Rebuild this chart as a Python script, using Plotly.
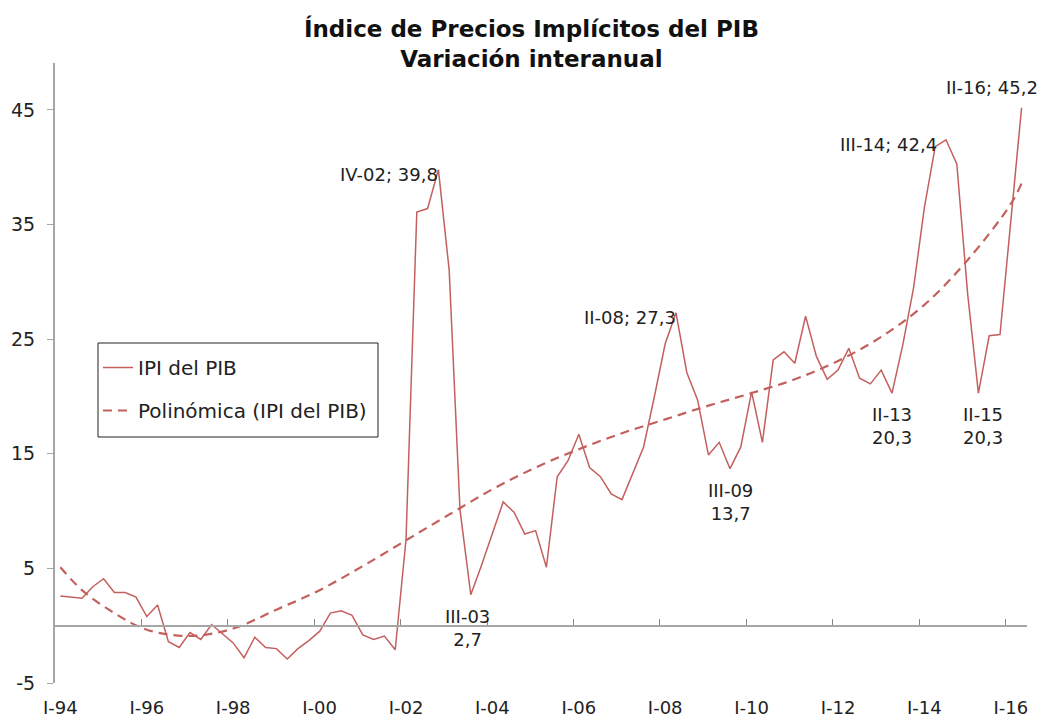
"""
IPI del PIB - variación interanual, trimestral (I-94 a II-16).
"""

import plotly.graph_objects as go

# Serie trimestral, desde I-94 hasta II-16 (90 trimestres)
ipi = [
    2.6, 2.5, 2.4, 3.4, 4.1, 2.9, 2.9, 2.5,        # 94-95
    0.8, 1.8, -1.4, -1.9, -0.6, -1.2, 0.1, -0.7,   # 96-97
    -1.5, -2.8, -1.0, -1.9, -2.0, -2.9, -2.0, -1.3,  # 98-99
    -0.5, 1.1, 1.3, 0.9, -0.8, -1.2, -0.9, -2.1,   # 00-01
    7.5, 36.1, 36.4, 39.8, 31.0, 10.1, 2.7, 5.3,   # 02-03
    8.0, 10.8, 9.9, 8.0, 8.3, 5.1, 13.0, 14.4,     # 04-05
    16.7, 13.8, 13.0, 11.5, 11.0, 13.3, 15.6, 20.0,  # 06-07
    24.6, 27.3, 22.1, 19.7, 14.9, 16.0, 13.7, 15.6,  # 08-09
    20.4, 16.0, 23.2, 23.9, 22.9, 27.0, 23.5, 21.5,  # 10-11
    22.3, 24.2, 21.6, 21.1, 22.3, 20.3, 24.5, 29.5,  # 12-13
    36.5, 41.8, 42.4, 40.3, 29.0, 20.3, 25.3, 25.4,  # 14-15
    35.1, 45.2,                                     # 16
]
quarter_idx = list(range(len(ipi)))

trend_idx = [0, 2, 5, 8, 12, 16, 20, 24, 28, 32, 36, 40, 44,
             48, 52, 56, 60, 64, 68, 72, 76, 80, 84, 88, 89]
trend_val = [5.1, 3.1, 1.1, -0.35, -0.9, -0.25, 1.4, 3.1, 5.2, 7.45, 9.7, 11.9, 13.8,
             15.4, 16.8, 18.0, 19.2, 20.3, 21.5, 23.1, 25.2, 28.0, 31.9, 36.8, 38.6]

# Etiquetas del eje x (una cada 8 trimestres)
tick_idx = [0, 8, 16, 24, 32, 40, 48, 56, 64, 72, 80, 88]
tick_text = ['I-94', 'I-96', 'I-98', 'I-00', 'I-02', 'I-04',
             'I-06', 'I-08', 'I-10', 'I-12', 'I-14', 'I-16']
y_ticks = [-5, 5, 15, 25, 35, 45]
y_tick_text = ['-5', '5', '15', '25', '35', '45']

# Puntos anotados
label_idx = [35, 38, 57, 62, 82, 89, 77, 85]
label_text = ['IV-02; 39,8', 'III-03<br>2,7', 'II-08; 27,3', 'III-09<br>13,7',
              'III-14; 42,4', 'II-16; 45,2', 'II-13<br>20,3', 'II-15<br>20,3']
label_pos = ['left', 'below', 'left', 'below', 'left', 'above', 'below', 'below']

LINE_COLOR = '#C3605D'
AXIS_COLOR = '#A6A6A6'
TEXT_COLOR = '#222222'
FONT = 'DejaVu Sans'

W, H = 1042, 720
M_L, M_R, M_T, M_B = 55, 15, 63, 37
Y_MIN, Y_MAX = -5, 49.1
X_MIN, X_MAX = -0.5, len(ipi) - 0.5

fig = go.Figure()

fig.add_trace(
    go.Scatter(
        x=quarter_idx,
        y=ipi,
        mode='lines',
        name='IPI del PIB',
        legendgroup='a',
        line=dict(color=LINE_COLOR, width=1.5),
    )
)

fig.add_trace(
    go.Scatter(
        x=trend_idx,
        y=trend_val,
        mode='lines',
        name='Polinómica (IPI del PIB)',
        legendgroup='b',
        xaxis='x2',
        line=dict(color=LINE_COLOR, width=2.2, dash='9px,6px', shape='spline', smoothing=1.0),
    )
)

# Etiquetas de datos
placement = {
    'left': dict(xanchor='right', yanchor='middle', xshift=2, yshift=-5),
    'below': dict(xanchor='center', yanchor='top', xshift=0, yshift=-9),
    'above': dict(xanchor='right', yanchor='middle', xshift=18, yshift=20),
}
# pequeños ajustes sobre la colocación general
nudge = {82: -9, 85: 5, 38: -3}
for idx, txt, pos in zip(label_idx, label_text, label_pos):
    opts = dict(placement[pos])
    opts['xshift'] += nudge.get(idx, 0)
    fig.add_annotation(
        x=idx,
        y=ipi[idx],
        text=txt,
        showarrow=False,
        font=dict(family=FONT, size=18, color=TEXT_COLOR),
        **opts,
    )

# Recuadro de la leyenda (en píxeles de la figura -> papel)
plot_w = W - M_L - M_R
plot_h = H - M_T - M_B
box = (98, 343, 378, 437)  # x0, y0, x1, y1 (px desde arriba-izquierda)
fig.add_shape(
    type='rect',
    xref='paper', yref='paper',
    x0=(box[0] - M_L) / plot_w, x1=(box[2] - M_L) / plot_w,
    y0=(H - M_B - box[3]) / plot_h, y1=(H - M_B - box[1]) / plot_h,
    line=dict(color='#222222', width=1),
    fillcolor='rgba(0,0,0,0)',
)

fig.update_layout(
    width=W,
    height=H,
    margin=dict(l=M_L, r=M_R, t=M_T, b=M_B),
    paper_bgcolor='white',
    plot_bgcolor='white',
    font=dict(family=FONT, size=18, color=TEXT_COLOR),
    title=dict(
        text='<b>Índice de Precios Implícitos del PIB<br>Variación interanual</b>',
        x=0.51,
        xref='container',
        xanchor='center',
        y=1 - 37 / 720,
        yanchor='top',
        font=dict(family=FONT, size=23, color='#111111'),
    ),
    showlegend=True,
    legend=dict(
        x=(box[0] - M_L) / plot_w,
        y=(H - M_B - box[1] - 5) / plot_h,
        xanchor='left',
        yanchor='top',
        bgcolor='rgba(0,0,0,0)',
        borderwidth=0,
        font=dict(family=FONT, size=20, color=TEXT_COLOR),
        traceorder='grouped',
        tracegroupgap=14,
    ),
    xaxis=dict(
        range=[X_MIN, X_MAX],
        tickvals=tick_idx,
        ticktext=tick_text,
        showline=False,
        ticks='',
        showgrid=False,
        zeroline=False,
        automargin=False,
        ticklabelstandoff=12,
        tickfont=dict(family=FONT, size=18, color=TEXT_COLOR),
    ),
    # eje horizontal que cruza en y = 0, con marcas entre categorías
    xaxis2=dict(
        overlaying='x',
        range=[X_MIN, X_MAX],
        anchor='free',
        position=(0 - Y_MIN) / (Y_MAX - Y_MIN),
        side='bottom',
        showline=True,
        linecolor=AXIS_COLOR,
        linewidth=2,
        ticks='inside',
        ticklen=6,
        tickwidth=1,
        tickcolor='#888888',
        tickvals=[t - 0.5 for t in tick_idx],
        showticklabels=False,
        showgrid=False,
        zeroline=False,
        automargin=False,
    ),
    yaxis=dict(
        range=[Y_MIN, Y_MAX],
        tickvals=y_ticks,
        ticktext=y_tick_text,
        showline=True,
        linecolor=AXIS_COLOR,
        linewidth=2,
        ticks='outside',
        ticklen=6,
        tickcolor=AXIS_COLOR,
        showgrid=False,
        zeroline=False,
        automargin=False,
        ticklabelstandoff=8,
        tickfont=dict(family=FONT, size=19, color=TEXT_COLOR),
    ),
)

# sin margen del body, para que la figura ocupe la ventana completa
fig.write_html(
    'out.html',
    config={'displayModeBar': False},
    post_script="document.body.style.margin='0';",
)
